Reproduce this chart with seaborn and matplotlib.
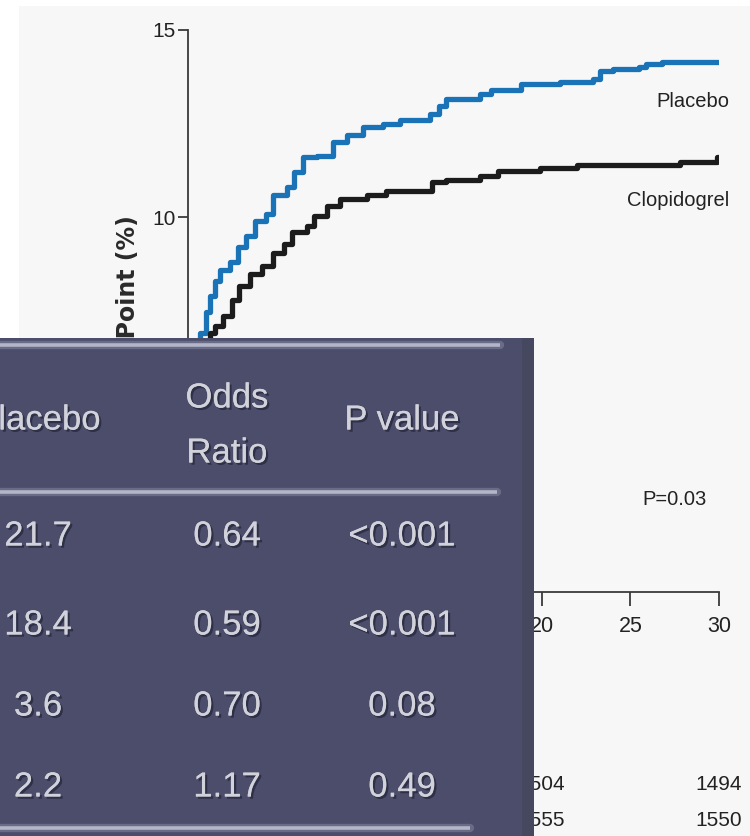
import numpy as np
import pandas as pd
import matplotlib
matplotlib.use("Agg")
import matplotlib.pyplot as plt
import matplotlib.patheffects as pe
import matplotlib.transforms as mtransforms
from matplotlib.patches import Rectangle
from matplotlib.lines import Line2D
import seaborn as sns

# Cumulative event curves (day, %)
placebo_days = [0, 0.68, 1.0, 1.24, 1.5, 1.8, 2.4, 2.8, 3.3, 3.8, 4.4, 4.8, 5.6, 6.0, 6.5,
                7.3, 8.2, 9.0, 9.9, 11.0, 12.0, 13.7, 14.2, 14.6, 16.5, 17.1, 18.8, 21.0,
                22.9, 23.3, 24.0, 25.5, 25.9, 26.8, 30.0]
placebo_pct = [0, 6.9, 7.46, 7.9, 8.3, 8.6, 8.8, 9.2, 9.5, 9.9, 10.1, 10.6, 10.8, 11.2, 11.6,
               11.65, 12.0, 12.2, 12.4, 12.5, 12.6, 12.75, 12.97, 13.15, 13.3, 13.4, 13.55, 13.6,
               13.7, 13.9, 13.95, 14.0, 14.1, 14.14, 14.14]
clop_days = [0, 1.24, 1.5, 2.0, 2.5, 2.9, 3.5, 4.2, 4.8, 5.4, 5.9, 6.7, 7.1, 7.85, 8.6,
             10.1, 11.2, 13.8, 14.6, 16.5, 17.5, 19.9, 22.0, 27.8, 29.9, 30.0]
clop_pct = [0, 6.9, 7.1, 7.36, 7.8, 8.16, 8.5, 8.7, 9.06, 9.3, 9.6, 9.76, 10.03, 10.3, 10.5,
            10.6, 10.7, 10.93, 11.0, 11.1, 11.23, 11.33, 11.4, 11.47, 11.6, 11.6]
groups = ["Placebo", "Clopidogrel"]

x_ticks = [0, 5, 10, 15, 20, 25, 30]
y_ticks = [0, 5, 10, 15]
p_text = "P=0.03"

# Numbers at risk
risk_days = [20, 30]
risk_row1 = [1504, 1494]
risk_row2 = [1555, 1550]

# Summary table
table_headers = ["Placebo", "Odds", "Ratio", "P value"]
placebo_rates = ["21.7", "18.4", "3.6", "2.2"]
odds_ratios = ["0.64", "0.59", "0.70", "1.17"]
p_values = ["<0.001", "<0.001", "0.08", "0.49"]

BLUE = "#1a73b6"
BLACK = "#1c1c1c"
TEXT = "#222222"

sns.set_theme(style="ticks")
plt.rcParams["font.family"] = ["Liberation Sans", "DejaVu Sans"]

W, H = 750, 836
fig = plt.figure(figsize=(W / 100, H / 100), dpi=100, facecolor="white")

# light backdrop of the figure panel
fig.patches.append(Rectangle((19 / W, 0), 1 - 19 / W, (H - 6) / H,
                             transform=fig.transFigure, facecolor="#f7f7f7",
                             edgecolor="none", zorder=-5))

ax = fig.add_axes([188 / W, (H - 592) / H, 531 / W, 562 / H], zorder=2)
ax.set_facecolor("none")

df = pd.concat([
    pd.DataFrame({"day": placebo_days, "pct": placebo_pct, "group": groups[0]}),
    pd.DataFrame({"day": clop_days, "pct": clop_pct, "group": groups[1]}),
])
sns.lineplot(data=df, x="day", y="pct", hue="group", palette={groups[0]: BLUE, groups[1]: BLACK},
             estimator=None, sort=False, drawstyle="steps-post", linewidth=3.8,
             legend=False, ax=ax)

ax.set_xlim(0, 30)
ax.set_ylim(0, 15)
ax.set_xticks(x_ticks)
ax.set_yticks(y_ticks)
ax.set_xlabel("Days")
ax.set_ylabel("")
for s in ["top", "right"]:
    ax.spines[s].set_visible(False)
for s in ["left", "bottom"]:
    ax.spines[s].set_color("#3a3a3a")
    ax.spines[s].set_linewidth(1.3)
ax.tick_params(axis="y", length=7, width=1.3, color="#3a3a3a", pad=2, labelsize=15,
               labelcolor=TEXT)
ax.tick_params(axis="x", length=10, width=1.3, color="#3a3a3a", pad=7, labelsize=15.5,
               labelcolor=TEXT)
ax.xaxis.label.set_size(16)

# curve labels
ax.text(30.6, 13.08, groups[0], ha="right", va="center", fontsize=14.5, color=TEXT)
ax.text(30.6, 10.46, groups[1], ha="right", va="center", fontsize=14.5, color=TEXT)
ax.text(27.5, 2.46, p_text, ha="center", va="center", fontsize=14.5, color=TEXT)

fig.text(128 / W, 1 - 215 / H, "Primary Efficacy End Point (%)", rotation=90,
         ha="center", va="top", fontsize=17, fontweight="bold", color="#2a2a2a",
         family=["DejaVu Sans"])

# numbers at risk
risk_tr = mtransforms.blended_transform_factory(ax.transData, fig.transFigure)
for d, a, b in zip(risk_days, risk_row1, risk_row2):
    ax.text(d, 1 - 785 / H, f"{a}", transform=risk_tr, ha="center", va="center",
            fontsize=15, color=TEXT, clip_on=False)
    ax.text(d, 1 - 820 / H, f"{b}", transform=risk_tr, ha="center", va="center",
            fontsize=15, color=TEXT, clip_on=False)

# overlaid summary table panel
panel = fig.add_axes([0, 0, 534 / W, (H - 338) / H], zorder=5)
panel.set_facecolor("#4b4d6b")
panel.set_xlim(0, 534)
panel.set_ylim(836, 338)
panel.set_xticks([])
panel.set_yticks([])
for s in panel.spines.values():
    s.set_visible(False)
panel.add_patch(Rectangle((522, 338), 12, 498, facecolor="#46485f", edgecolor="none"))

rule_color = "#a4a6bd"
for yy, x1 in [(345, 500), (492, 497), (828, 470)]:
    panel.add_line(Line2D([0, x1], [yy, yy], color=rule_color, lw=6, alpha=0.35,
                          solid_capstyle="round"))
    panel.add_line(Line2D([0, x1], [yy, yy], color="#b3b5c9", lw=2.6,
                          solid_capstyle="butt"))

txt_kw = dict(ha="center", va="center", fontsize=25, color="#d2d2db",
              family=["Liberation Sans", "DejaVu Sans"],
              path_effects=[pe.withSimplePatchShadow(offset=(1.6, -1.6),
                                                     shadow_rgbFace="#23253a", alpha=0.7),
                            pe.Normal()])
col_x = [38, 227, 402]
panel.text(col_x[0], 420, table_headers[0], **txt_kw)
panel.text(col_x[1], 398, table_headers[1], **txt_kw)
panel.text(col_x[1], 453, table_headers[2], **txt_kw)
panel.text(col_x[2], 420, table_headers[3], **txt_kw)

row_y = [536, 625, 706, 787]
for yy, a, b, c in zip(row_y, placebo_rates, odds_ratios, p_values):
    panel.text(col_x[0], yy, a, **txt_kw)
    panel.text(col_x[1], yy, b, **txt_kw)
    panel.text(col_x[2], yy, c, **txt_kw)

fig.savefig("out.png", dpi=100, facecolor="white")
